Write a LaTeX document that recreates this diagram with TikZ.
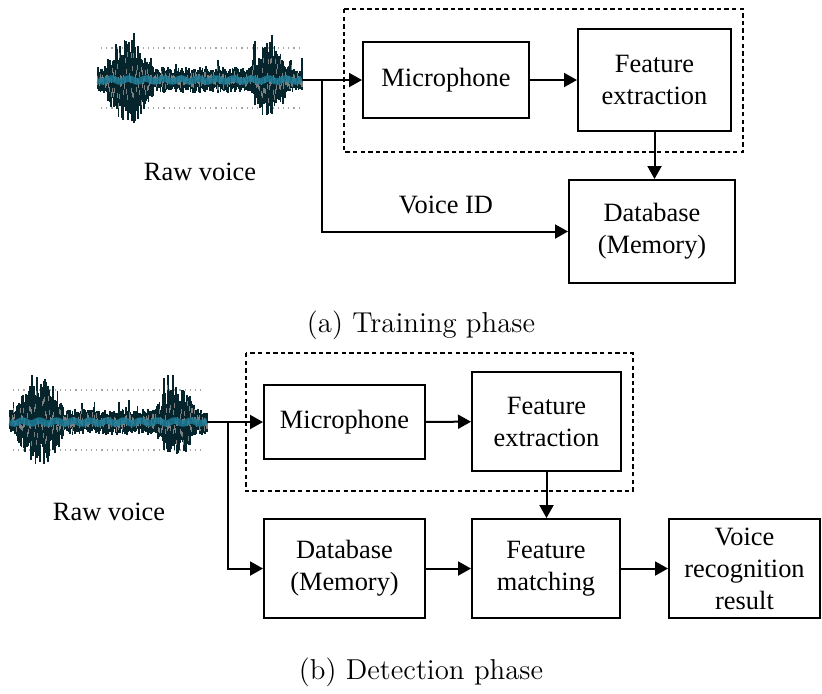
\documentclass[tikz,border=0pt]{standalone}
\usepackage{fontspec}
\usepackage{tikz}
\usetikzlibrary{arrows.meta,positioning,calc}
\newfontfamily\boxfont{Liberation Serif}
\definecolor{WaveDark}{RGB}{6,36,44}
\definecolor{WaveGray}{RGB}{125,128,128}
\definecolor{WaveTeal}{RGB}{28,125,152}
\tikzset{
  blk/.style={draw=black,line width=1pt,align=center,inner sep=2pt,font=\boxfont\fontsize{13.2}{16}\selectfont},
  lbl/.style={align=center,font=\boxfont\fontsize{13.2}{16}\selectfont},
  captxt/.style={font=\fontsize{14.4}{17}\selectfont},
  arr/.style={-{Triangle[length=6.5pt,width=7pt]},line width=1pt},
  wire/.style={line width=1pt},
  dashbox/.style={dash pattern=on 2.2pt off 1.6pt,line width=0.7pt},
  wavebar/.style={WaveDark,line width=0.9pt},
  wavespeck/.style={WaveGray,line width=0.6pt},
}
% #1 left end, #2 centre line, #3 length, #4 seed
\newcommand{\voicewave}[4]{%
  \pgfmathsetseed{#4}
  \draw[WaveGray!70,dotted,line width=0.6pt] (#1+3,#2-32) -- (#1+#3-3,#2-32);
  \draw[WaveGray!70,dotted,line width=0.6pt] (#1+3,#2+28) -- (#1+#3-3,#2+28);
  \foreach \i in {0,...,170} {
    \pgfmathsetmacro{\t}{\i/170}
    \pgfmathsetmacro{\ua}{min(abs((\t-0.15)/0.13),1)}
    \pgfmathsetmacro{\ub}{min(abs((\t-0.84)/0.1),1)}
    \pgfmathsetmacro{\env}{13+32*cos(90*\ua)+26*cos(90*\ub)}
    \pgfmathsetmacro{\sp}{rnd>0.9 ? 1.8 : 1}
    \pgfmathsetmacro{\up}{min(\sp*\env*(0.5+0.5*rnd),47)}
    \pgfmathsetmacro{\dn}{min(\env*(0.5+0.5*rnd),44)}
    \pgfmathsetmacro{\xx}{#1+\t*#3}
    \draw[wavebar] (\xx,#2-\up) -- (\xx,#2+\dn);
    \draw[wavespeck] (\xx,#2-0.8*\up*rnd) -- ++(0,5);
    \draw[wavespeck] (\xx,#2+0.8*\dn*rnd) -- ++(0,-5);
  }
  \draw[WaveTeal,line width=3.2pt,opacity=0.85] plot[domain=0:1,samples=90] ({#1+\x*#3},{#2+1.5*sin(\x*4200)});
}

\begin{document}
\begin{tikzpicture}[x=0.5pt,y=-0.5pt]
  \useasboundingbox (0,0) rectangle (822,693);

  % training phase
  \voicewave{98}{80}{204}{11}
  \coordinate (wave1) at (302,80);
  \coordinate (split1) at (322,80);
  \node[lbl] (raw1) at (200,172) {Raw voice};
  \draw[dashbox] (344,9) rectangle (743,152);
  \node[blk,minimum width=83pt,minimum height=38pt] (mic1) at (446,80) {Microphone};
  \node[blk,minimum width=76.5pt,minimum height=51pt] (fe1) at (654.5,80) {Feature\\extraction};
  \node[blk,minimum width=83pt,minimum height=51.5pt] (db1) at (652,231.5) {Database\\(Memory)};
  \node[lbl] (vid) at (446,205) {Voice ID};
  \draw[wire] (wave1) -- (split1);
  \draw[arr] (split1) -- (mic1);
  \draw[arr] (split1) |- (db1);
  \draw[arr] (mic1) -- (fe1);
  \draw[arr] (fe1.south) -- (fe1.south |- db1.north);
  \node[captxt] (capa) at (421,325) {(a) Training phase};

  % detection phase
  \voicewave{10}{422}{197}{5}
  \coordinate (wave2) at (207,422);
  \coordinate (split2) at (228,422);
  \node[lbl] (raw2) at (109,512) {Raw voice};
  \draw[dashbox] (246,353) rectangle (633,491);
  \node[blk,minimum width=80.5pt,minimum height=37pt] (mic2) at (344.5,422) {Microphone};
  \node[blk,minimum width=74.5pt,minimum height=49.5pt] (fe2) at (546.5,421.5) {Feature\\extraction};
  \node[blk,minimum width=80.5pt,minimum height=49.5pt] (db2) at (344.5,568.5) {Database\\(Memory)};
  \node[blk,minimum width=74pt,minimum height=49.5pt] (fm2) at (546,568.5) {Feature\\matching};
  \node[blk,minimum width=75.5pt,minimum height=49.5pt] (res2) at (744.5,568.5) {Voice\\recognition\\result};
  \draw[wire] (wave2) -- (split2);
  \draw[arr] (split2) -- (mic2);
  \draw[arr] (split2) |- (db2);
  \draw[arr] (mic2) -- (fe2);
  \draw[arr] (fe2.south) -- (fe2.south |- fm2.north);
  \draw[arr] (db2) -- (fm2);
  \draw[arr] (fm2) -- (res2);
  \node[captxt] (capb) at (421,672) {(b) Detection phase};
\end{tikzpicture}
\end{document}
